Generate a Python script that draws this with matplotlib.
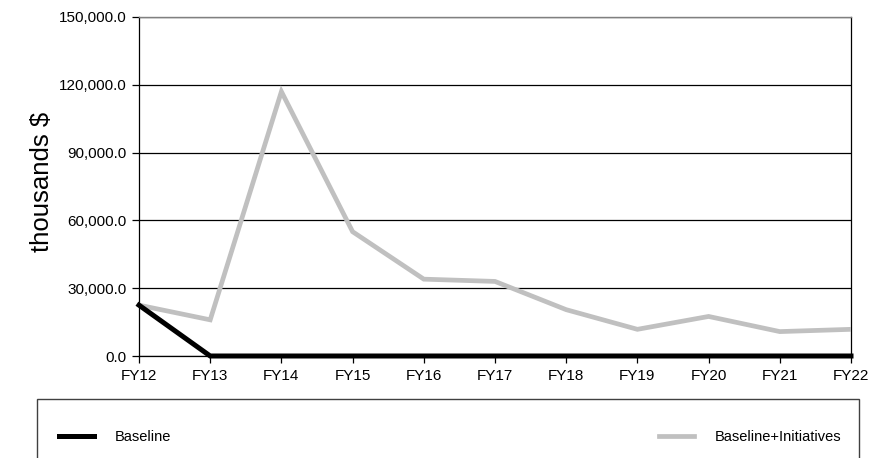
import matplotlib
matplotlib.use("Agg")
import matplotlib.pyplot as plt
from matplotlib.patches import Rectangle
from matplotlib.ticker import FuncFormatter

plt.rcParams['font.family'] = ['Liberation Sans', 'DejaVu Sans']

years = ["FY12", "FY13", "FY14", "FY15", "FY16", "FY17", "FY18", "FY19", "FY20", "FY21", "FY22"]
baseline = [22500, 0, 0, 0, 0, 0, 0, 0, 0, 0, 0]
baseline_initiatives = [22500, 16000, 117000, 55000, 34000, 33000, 20500, 11800, 17500, 10800, 11800]
y_ticks = [0, 30000, 60000, 90000, 120000, 150000]

W, H = 884, 458
fig = plt.figure(figsize=(W / 100, H / 100), dpi=100)
ax = fig.add_axes([139 / W, 1 - 356 / H, (851 - 139) / W, (356 - 17) / H])

x = list(range(len(years)))
l2, = ax.plot(x, baseline_initiatives, color="#c0c0c0", lw=3.4, solid_joinstyle="miter",
              label="Baseline+Initiatives", zorder=3)
l1, = ax.plot(x, baseline, color="black", lw=3.6, solid_joinstyle="miter",
              label="Baseline", zorder=4, clip_on=False)

ax.set_xlim(0, len(years) - 1)
ax.set_ylim(0, 150000)
ax.set_xticks(x)
ax.set_xticklabels(years)
ax.set_yticks(y_ticks)
ax.yaxis.set_major_formatter(FuncFormatter(lambda v, p: f"{v:,.1f}"))

ax.grid(axis="y", color="black", lw=0.9)
ax.set_axisbelow(True)
for side in ("left", "right", "bottom"):
    ax.spines[side].set_color("black")
    ax.spines[side].set_linewidth(0.9)
ax.spines["top"].set_color("#808080")
ax.spines["top"].set_linewidth(1.0)

ax.tick_params(axis="both", labelsize=11, length=5, width=0.9, color="black")
ax.tick_params(axis="y", pad=4)
ax.tick_params(axis="x", pad=4)

ax.set_ylabel("thousands $", fontsize=18.5)
ax.yaxis.set_label_coords(-0.119, 0.513)

# legend box along the bottom of the figure
fig.patches.append(Rectangle((37 / W, -0.2), (859 - 37) / W, 1 - 399 / H + 0.2,
                             transform=fig.transFigure, fill=False,
                             edgecolor="#404040", lw=1.0))

fig.legend(handles=[l1, l2], loc="center left", bbox_to_anchor=(59 / W, 1 - 437 / H),
           ncol=2, frameon=False, fontsize=10.5, borderpad=0, borderaxespad=0,
           handlelength=2.4, handletextpad=1.4, columnspacing=33.5)

fig.savefig("out.png", dpi=100)
